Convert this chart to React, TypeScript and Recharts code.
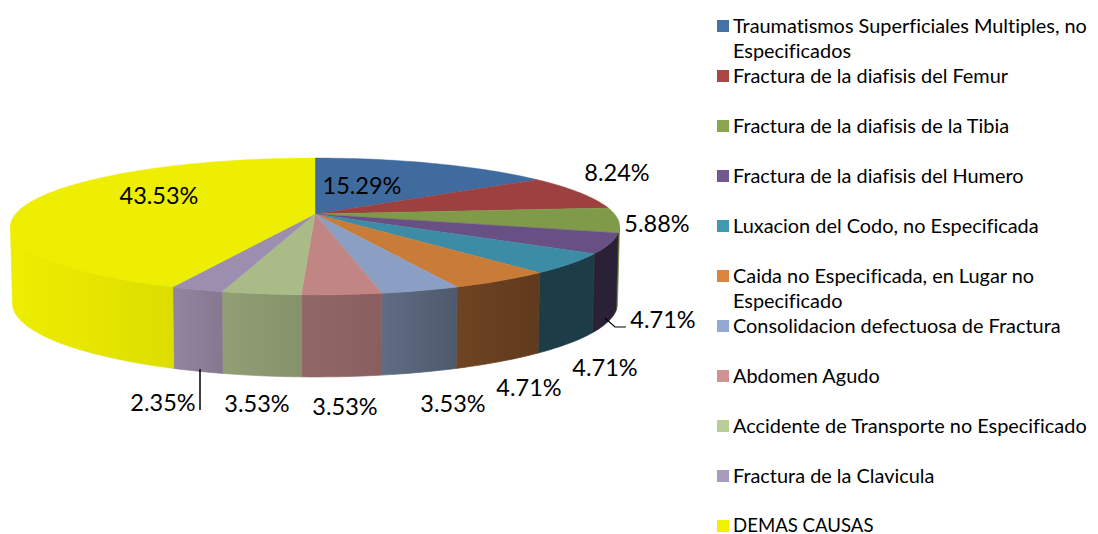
import React from "react";
import { PieChart, Pie, Legend } from "recharts";

const categories = [
  "Traumatismos Superficiales Multiples, no Especificados",
  "Fractura de la diafisis del Femur",
  "Fractura de la diafisis de la Tibia",
  "Fractura de la diafisis del Humero",
  "Luxacion del Codo, no Especificada",
  "Caida no Especificada, en Lugar no Especificado",
  "Consolidacion defectuosa de Fractura",
  "Abdomen Agudo",
  "Accidente de Transporte no Especificado",
  "Fractura de la Clavicula",
  "DEMAS CAUSAS",
];
const percentages = [15.29, 8.24, 5.88, 4.71, 4.71, 4.71, 3.53, 3.53, 3.53, 2.35, 43.53];

const topColors = ["#3F6B9E", "#9C4140", "#7F9A48", "#684F84", "#3D8CA5", "#C97B38", "#8A9FC3", "#C18683", "#AABB88", "#9B8EAF", "#EEEE00"];
const legendColors = ["#4572A7", "#AA4643", "#89A54E", "#71588F", "#4198AF", "#DB843D", "#93A9CF", "#D19392", "#B9CD96", "#A99BBD", "#F0F000"];
const wallFrom = ["#2A4666", "#6A2D2C", "#70803C", "#2B2137", "#1C3D48", "#6F4422", "#5F6C84", "#916866", "#929F75", "#92859F", "#EEEE00"];
const wallTo = ["#2A4666", "#6A2D2C", "#70803C", "#2B2137", "#1C3D48", "#5F3A1C", "#4D5A6C", "#8A5E5E", "#85926A", "#857890", "#DDDD00"];

const FONT = "Lato, Carlito, sans-serif";
const labelCenters: [number, number][] = [
  [362, 185], [617, 172], [657, 223], [663, 319], [605, 367], [529, 387],
  [453, 403], [345, 406], [257, 403], [163, 402], [159, 195],
];

const TILT = 0.221;
const PERSPECTIVE = 0.182;
const WALL_DROP = 77;
const WALL_FLARE = 1.073;
const WALL_NARROW = 0.993;

const project = (cx: number, cy: number, r: number, deg: number) => {
  const u = Math.cos((deg * Math.PI) / 180);
  const v = Math.sin((deg * Math.PI) / 180);
  const d = 1 + PERSPECTIVE * v;
  return { x: cx + (r * u) / d, y: cy - (r * TILT * v) / d };
};
const drop = (cx: number, cy: number, r: number, p: { x: number; y: number }) => {
  const midY = cy + (r * TILT * PERSPECTIVE) / (1 - PERSPECTIVE * PERSPECTIVE);
  return { x: cx + (p.x - cx) * WALL_NARROW, y: midY + WALL_DROP + (p.y - midY) * WALL_FLARE };
};
const samples = (a: number, b: number) => {
  const n = Math.max(2, Math.ceil(Math.abs(a - b) / 1.5));
  return Array.from({ length: n + 1 }, (_, i) => a + ((b - a) * i) / n);
};
const toPath = (pts: { x: number; y: number }[]) =>
  pts.map((p, i) => `${i ? "L" : "M"}${p.x.toFixed(2)} ${p.y.toFixed(2)}`).join(" ") + " Z";

const VISIBLE_FROM = -10.5;
const VISIBLE_TO = -169.5;

const Slice = (props: any) => {
  const { cx, cy, outerRadius: r, startAngle, endAngle, index } = props;
  const rim = samples(startAngle, endAngle).map((d) => project(cx, cy, r, d));
  const top = toPath([{ x: cx, y: cy }, ...rim]);
  const a = Math.min(startAngle, VISIBLE_FROM);
  const b = Math.max(endAngle, VISIBLE_TO);
  let wall = null;
  if (a > b) {
    const upper = samples(a, b).map((d) => project(cx, cy, r, d));
    const lower = upper.map((p) => drop(cx, cy, r, p)).reverse();
    const xs = upper.map((p) => p.x);
    const id = `wall-${index}`;
    wall = (
      <g>
        <defs>
          <linearGradient id={id} gradientUnits="userSpaceOnUse" x1={Math.min(...xs)} x2={Math.max(...xs)} y1={0} y2={0}>
            <stop offset="0" stopColor={wallFrom[index]} />
            <stop offset="1" stopColor={wallTo[index]} />
          </linearGradient>
        </defs>
        <path d={toPath([...upper, ...lower])} fill={`url(#${id})`} stroke={`url(#${id})`} strokeWidth={0.7} />
      </g>
    );
  }
  return (
    <g>
      {wall}
      <path d={top} fill={topColors[index]} stroke={topColors[index]} strokeWidth={0.4} />
    </g>
  );
};

const renderLabel = (props: any) => {
  const { index, value } = props;
  const [x, y] = labelCenters[index];
  return (
    <g key={index}>
      {index === 3 && <path d="M605 318 L615 327 L626 327" fill="none" stroke="#000" strokeWidth={1.2} />}
      {index === 9 && <path d="M200 369 L200 410" fill="none" stroke="#000" strokeWidth={1.5} />}
      <text x={x} y={y} textAnchor="middle" dominantBaseline="central" fontFamily={FONT} fontSize={23.5} fill="#000">
        {Number(value).toFixed(2)}%
      </text>
    </g>
  );
};

const LegendList = (props: any) => {
  const items = props.payload || [];
  return (
    <div style={{ position: "relative", fontFamily: FONT, fontSize: 19.9, lineHeight: "25px", color: "#000", fontVariantLigatures: "none" }}>
      {items.map((item: any, i: number) => {
        const last = i === items.length - 1;
        return (
          <div key={i} style={{ position: "absolute", left: 0, top: i * 50 + (last ? 4 : 0), width: 381 }}>
            <span style={{ position: "absolute", left: 0, top: last ? 3 : 7, width: 12, height: 12, background: legendColors[i] }} />
            <div style={{ marginLeft: 16, width: 365, lineHeight: last ? "17px" : undefined, fontSize: last ? 18.6 : undefined }}>{item.value}</div>
          </div>
        );
      })}
    </div>
  );
};

const data = categories.map((name, i) => ({ name, value: percentages[i] }));

export default function App() {
  return (
    <div style={{ position: "absolute", left: 0, top: 0, width: 1098, height: 534 }}>
      <PieChart width={1098} height={534} margin={{ top: 0, right: 0, bottom: 0, left: 0 }}>
        <Pie
          data={data}
          dataKey="value"
          nameKey="name"
          cx={315}
          cy={214}
          innerRadius={0}
          outerRadius={299.5}
          startAngle={90}
          endAngle={-270}
          stroke="none"
          isAnimationActive={false}
          shape={Slice}
          label={renderLabel}
          labelLine={false}
          legendType="square"
        />
        <Legend itemSorter={null} content={LegendList} wrapperStyle={{ position: "absolute", left: 717, top: 13, width: 381 }} />
      </PieChart>
    </div>
  );
}
